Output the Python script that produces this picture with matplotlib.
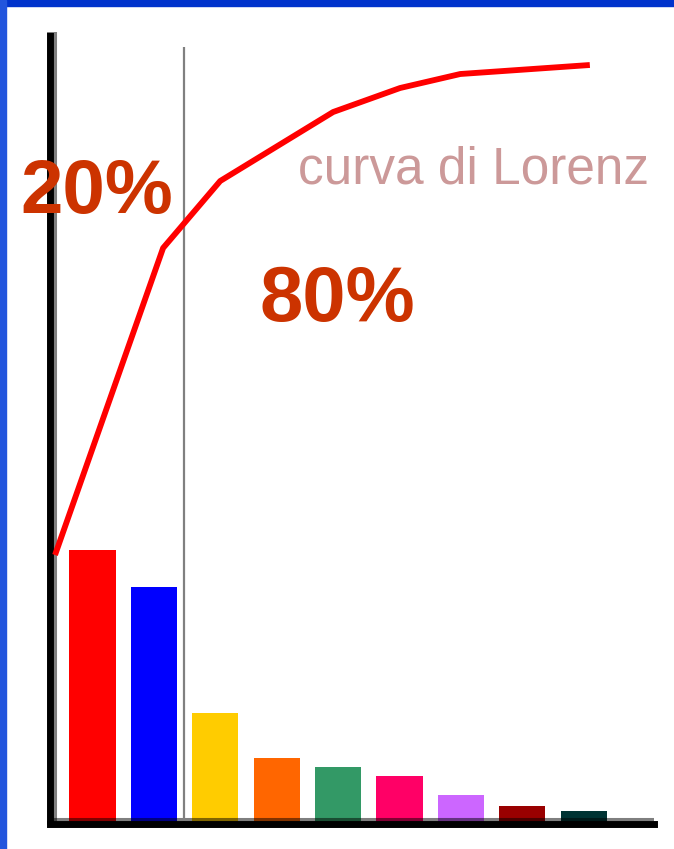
import numpy as np
import matplotlib
matplotlib.use("Agg")
import matplotlib.pyplot as plt
from matplotlib.patches import Rectangle

# bar heights (baseline = 0)
heights = [274, 237, 111, 66, 57, 48, 29, 18, 13]
colors = ['#FF0000', '#0000FF', '#FFCC00', '#FF6600', '#339966',
          '#FF0066', '#CC66FF', '#990000', '#003333']
# Lorenz curve points (x in bar slots, y in same units as bars)
curve_x = [-0.61, 1.15, 2.08, 3.92, 5.01, 5.99, 8.10]
curve_y = [269, 576, 643, 712, 736, 750, 759]

W, H = 674, 849
fig = plt.figure(figsize=(W / 100, H / 100), dpi=100)
fig.patch.set_facecolor('white')

ax = fig.add_axes([50 / W, (H - 824) / H, 604 / W, 792 / H])
ax.set_xlim(-0.692, 9.145)
ax.set_ylim(0, 792)
ax.patch.set_alpha(0)

x = np.arange(len(heights))
ax.bar(x, heights, width=0.75, color=colors, zorder=1)

# shadow lines along axes
ax.axhline(5.5, color='black', alpha=0.5, lw=2.2, zorder=2)
ax.axvline(-0.603, color='black', alpha=0.5, lw=2.2, zorder=2)

# 20/80 divider
ax.vlines(1.49, 0, 777, color='#808080', lw=1.6, zorder=2)

ax.plot(curve_x, curve_y, color='#FF0000', lw=4.2, solid_joinstyle='round',
        solid_capstyle='butt', zorder=3)

ax.text(0.07, 631, '20%', fontsize=55, fontweight='bold', color='#CC3300',
        family='Liberation Sans', ha='center', va='center', zorder=4)
ax.text(3.98, 524, '80%', fontsize=56, fontweight='bold', color='#CC3300',
        family='Liberation Sans', ha='center', va='center', zorder=4)
ax.text(3.35, 641, 'curva di Lorenz', fontsize=37, color='#CC9999',
        family='Liberation Sans', ha='left', va='baseline', zorder=4)

for s in ['top', 'right']:
    ax.spines[s].set_visible(False)
for s in ['left', 'bottom']:
    ax.spines[s].set_linewidth(5)
    ax.spines[s].set_color('black')
ax.spines['bottom'].set_capstyle('projecting')
ax.spines['left'].set_capstyle('butt')
ax.set_xticks([])
ax.set_yticks([])

# blue slide border
fig.patches.append(Rectangle((0, (H - 6) / H), 1, 6 / H, transform=fig.transFigure,
                             color='#0033CC', zorder=5))
fig.patches.append(Rectangle((0, 0), 6 / W, 1, transform=fig.transFigure,
                             color='#2255DD', zorder=5))

fig.savefig('out.png', dpi=100)
